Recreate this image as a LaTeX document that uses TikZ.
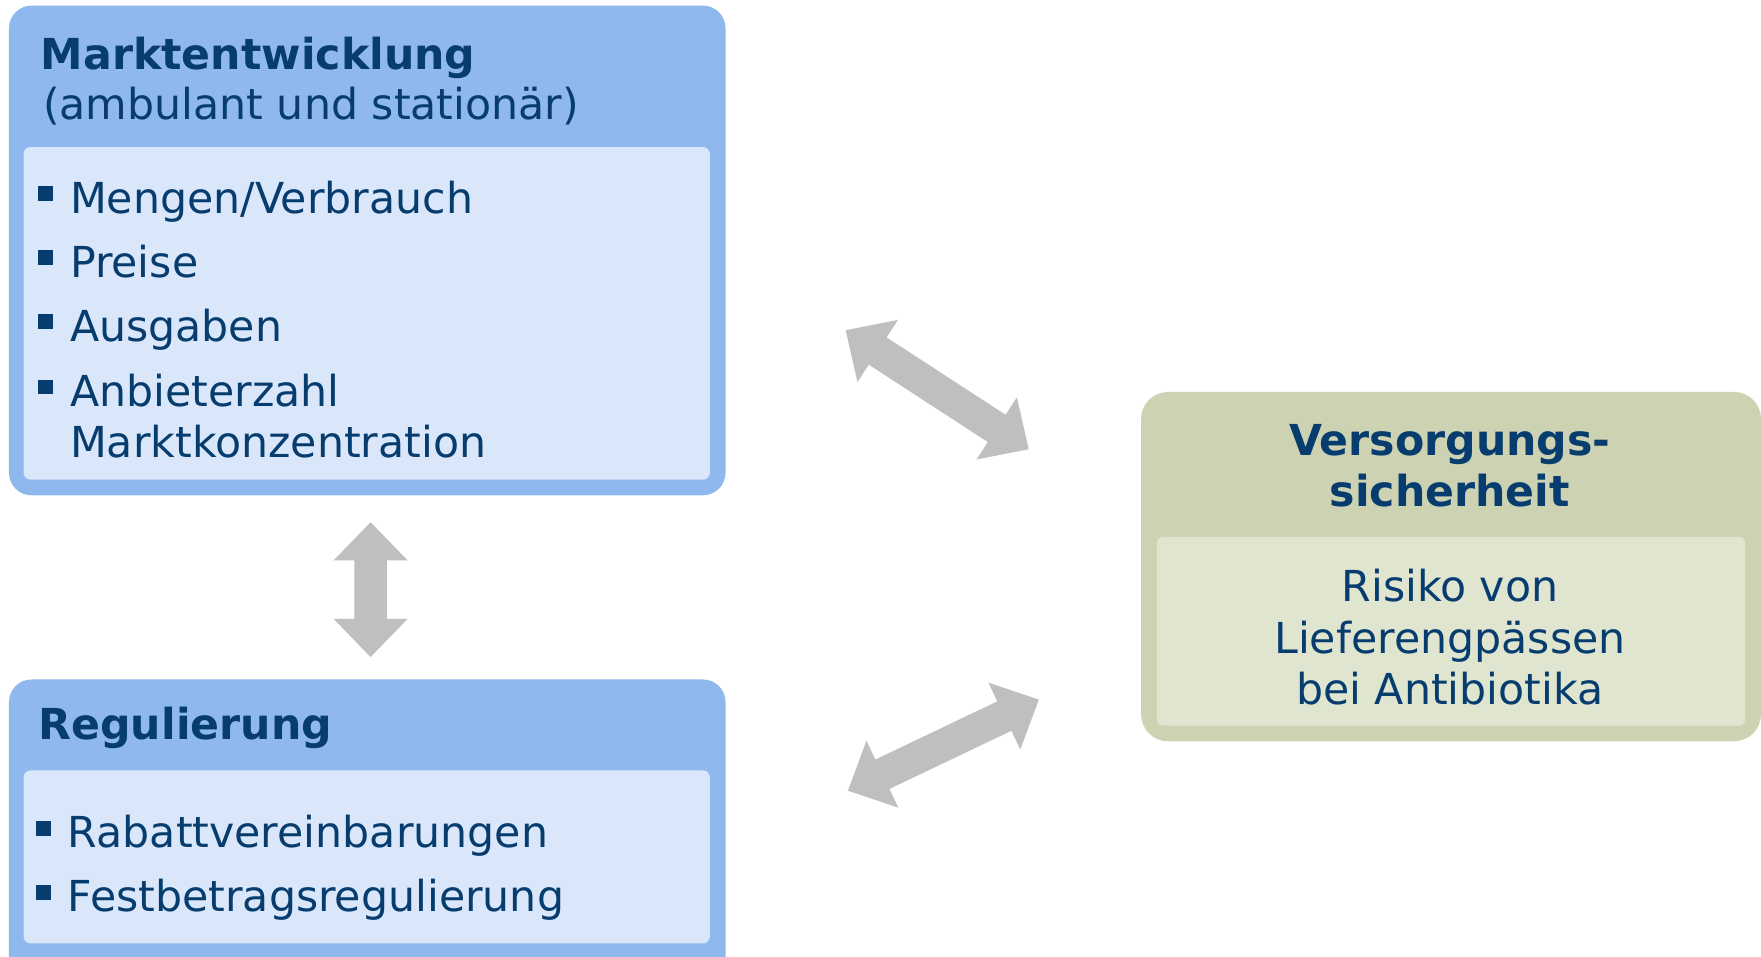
\documentclass[tikz,border=0pt]{standalone}
\usepackage{fontspec}
\setmainfont{DejaVu Sans}
\definecolor{hdrblue}{HTML}{8FB9EE}
\definecolor{panblue}{HTML}{DAE7FA}
\definecolor{hdrgreen}{HTML}{CDD3B2}
\definecolor{pangreen}{HTML}{E0E5D0}
\definecolor{txtblue}{HTML}{063C6E}
\definecolor{arrowgray}{HTML}{BFBFBF}
\newcommand\garrow[3]{% start coordinate, angle, length
  \begin{scope}[shift={(#1)}, rotate=#2]
    \fill[arrowgray] (0,0) -- (34,33) -- (34,14.5) -- ({#3-34},14.5) -- ({#3-34},33) -- (#3,0)
      -- ({#3-34},-33) -- ({#3-34},-14.5) -- (34,-14.5) -- (34,-33) -- cycle;
  \end{scope}}
\begin{document}
\begin{tikzpicture}[x=0.5pt,y=-0.5pt,
  txt/.style={inner sep=0pt, text=txtblue, font=\fontsize{19}{22}\selectfont},
  ttl/.style={txt, font=\fontsize{19}{22}\selectfont\bfseries},
  bul/.style={fill=txtblue},
  outerblue/.style={fill=hdrblue, rounded corners=10pt},
  innerblue/.style={fill=panblue, rounded corners=3pt},
  outergreen/.style={fill=hdrgreen, rounded corners=12pt},
  innergreen/.style={fill=pangreen, rounded corners=3pt}]
\useasboundingbox (0,0) rectangle (1568,852);
\clip (0,0) rectangle (1568,852);
\fill[white] (0,0) rectangle (1568,852);

% Box 1
\path[outerblue] (8,5) rectangle (646,441);
\path[innerblue] (21,131) rectangle (632,427);
\node[ttl, anchor=base west] (t1) at (36,62) {Marktentwicklung};
\node[txt, anchor=base west] (t1b) at (38,106) {(ambulant und stationär)};
\foreach \y/\n/\t in {190/m1/Mengen\slash Verbrauch, 247/m2/Preise, 304/m3/Ausgaben, 362/m4/Anbieterzahl}{
  \fill[bul] (34,\y-24) rectangle (47,\y-11);
  \node[txt, anchor=base west] (\n) at (62,\y) {\t};
}
\node[txt, anchor=base west] (m5) at (62,407) {Marktkonzentration};

% Box 2
\path[outerblue] (8,605) rectangle (646,880);
\path[innerblue] (21,686) rectangle (632,840);
\node[ttl, anchor=base west] (t2) at (34,658) {Regulierung};
\foreach \y/\n/\t in {755/r1/Rabattvereinbarungen, 812/r2/Festbetragsregulierung}{
  \fill[bul] (32,\y-24) rectangle (45,\y-11);
  \node[txt, anchor=base west] (\n) at (60,\y) {\t};
}

% Box 3
\path[outergreen] (1016,349) rectangle (1568,660);
\path[innergreen] (1030,478) rectangle (1554,646);
\node[ttl, anchor=base] (t3a) at (1291,406) {Versorgungs-};
\node[ttl, anchor=base] (t3b) at (1291,451) {sicherheit};
\node[txt, anchor=base] (v1) at (1291,536) {Risiko von};
\node[txt, anchor=base] (v2) at (1291,582) {Lieferengpässen};
\node[txt, anchor=base] (v3) at (1291,627) {bei Antibiotika};

% arrows
\coordinate (a1) at (330,585);
\coordinate (a2) at (330,465);
\coordinate (u1) at (753,294);
\coordinate (u2) at (916,400);
\coordinate (l1) at (755,704);
\coordinate (l2) at (925,623);
\garrow{a1}{90}{120}
\garrow{u1}{-33.04}{194.4}
\garrow{l1}{25.5}{188.3}
\end{tikzpicture}
\end{document}
